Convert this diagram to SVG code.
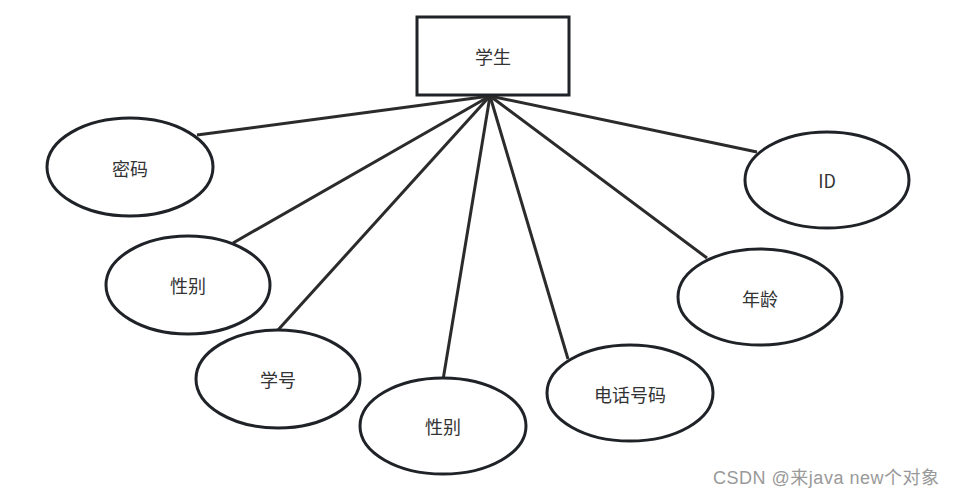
<svg xmlns="http://www.w3.org/2000/svg" width="955" height="496" viewBox="0 0 955 496">
<style>
.n{fill:#fff;stroke:#1f2328;stroke-width:3}
.c{stroke:#2b2b2b;stroke-width:3;fill:none}
.t{font-family:"Noto Sans CJK SC","Liberation Sans",sans-serif;font-size:18px;fill:#333;text-anchor:middle;dominant-baseline:central}
.w{font-family:"Liberation Sans","Noto Sans CJK SC",sans-serif;font-size:18px;fill:#999}
</style>
<rect width="955" height="496" fill="#fff"/>
<g id="connectors">
<line class="c" x1="490" y1="96" x2="197" y2="135"/>
<line class="c" x1="490" y1="96" x2="233" y2="243"/>
<line class="c" x1="490" y1="96" x2="278" y2="330"/>
<line class="c" x1="490" y1="96" x2="443" y2="380"/>
<line class="c" x1="490" y1="96" x2="568" y2="359"/>
<line class="c" x1="490" y1="96" x2="707" y2="258"/>
<line class="c" x1="490" y1="96" x2="757" y2="152"/>
</g>
<g id="student"><rect class="n" x="417" y="17" width="152" height="78"/><text class="t" x="493" y="56">学生</text></g>
<g id="password"><ellipse class="n" cx="130" cy="167" rx="83" ry="49"/><text class="t" x="130" y="168">密码</text></g>
<g id="gender1"><ellipse class="n" cx="188" cy="285" rx="82" ry="49"/><text class="t" x="188" y="285">性别</text></g>
<g id="number"><ellipse class="n" cx="278" cy="379" rx="82" ry="49"/><text class="t" x="278" y="379">学号</text></g>
<g id="gender2"><ellipse class="n" cx="443" cy="426" rx="83" ry="48"/><text class="t" x="443" y="426">性别</text></g>
<g id="phone"><ellipse class="n" cx="630" cy="393" rx="83" ry="48"/><text class="t" x="630" y="394">电话号码</text></g>
<g id="age"><ellipse class="n" cx="760" cy="297" rx="82" ry="48"/><text class="t" x="760" y="298">年龄</text></g>
<g id="id"><ellipse class="n" cx="827" cy="180" rx="82" ry="48"/><text class="t" x="827" y="180">ID</text></g>
<text class="w" x="713" y="484" textLength="226">CSDN @来java new个对象</text>
</svg>
